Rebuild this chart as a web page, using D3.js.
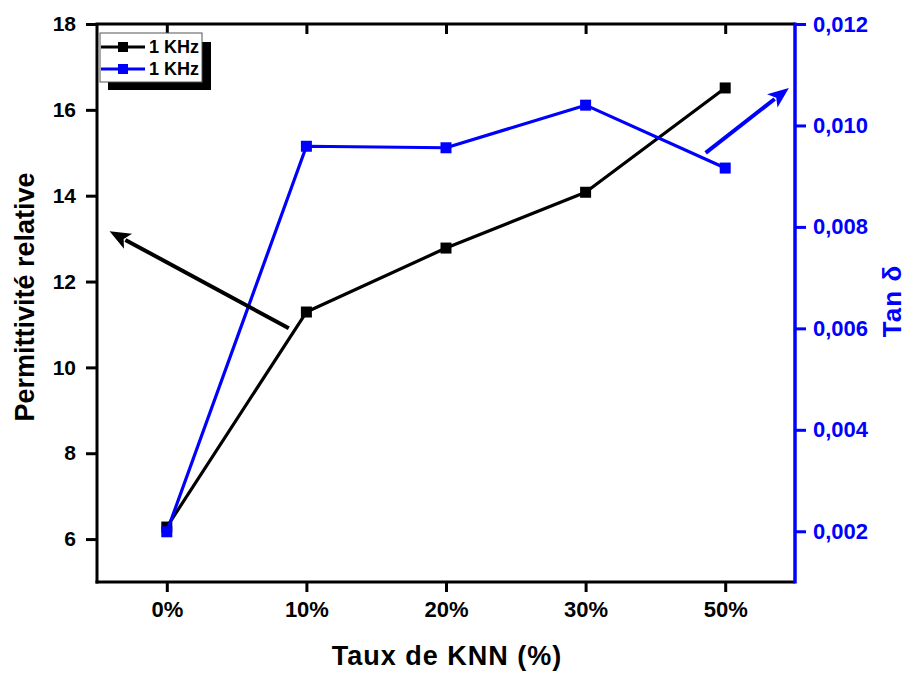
<!DOCTYPE html>
<html>
<head>
<meta charset="utf-8">
<script src="https://cdn.jsdelivr.net/npm/d3@7"></script>
<style>
  html, body { margin: 0; padding: 0; background: #fff; }
  svg { display: block; }
  text { font-family: "Liberation Sans", Arial, sans-serif; font-weight: bold; }
</style>
</head>
<body>
<svg id="chart" width="909" height="673"></svg>
<script>
// Data
const categories = ["0%", "10%", "20%", "30%", "50%"];
const permittivity = [6.28, 11.29, 12.78, 14.08, 16.51];
const tanDelta = [0.00199, 0.00959, 0.00956, 0.01040, 0.00916];
const leftTicks = [6, 8, 10, 12, 14, 16, 18];
const rightTicks = [0.002, 0.004, 0.006, 0.008, 0.010, 0.012];
const legendLabels = ["1 KHz", "1 KHz"];
// Annotation arrows, in data units: [x index, value] tail -> head
const leftArrow = { from: [0.874, 10.91], to: [-0.41, 13.17] };
const rightArrow = { from: [3.86, 0.00946], to: [4.456, 0.01074] };

const BLACK = "#000000";
const BLUE = "#0000ff";
const FONT = "'Liberation Sans', Arial, sans-serif";

const margin = { left: 97, right: 114, top: 24, bottom: 91 };
const W = 909, H = 673;
const x0 = margin.left, x1 = W - margin.right;
const y0 = margin.top, y1 = H - margin.bottom;

const svg = d3.select("#chart");

const x = d3.scalePoint().domain(categories).range([x0, x1]).padding(0.5);
const xIdx = d3.scaleLinear().domain([-0.5, categories.length - 0.5]).range([x0, x1]);
const yL = d3.scaleLinear().domain([5, 18]).range([y1, y0]);
const yR = d3.scaleLinear().domain([0.001, 0.012]).range([y1, y0]);

function styleAxis(g, color, fontSize) {
  g.select(".domain").remove();
  g.selectAll(".tick line").attr("stroke", color).attr("stroke-width", 3);
  g.selectAll(".tick text").attr("fill", color).attr("font-size", fontSize)
    .attr("font-family", FONT).attr("font-weight", "bold");
}

// Bottom axis
const gB = svg.append("g").attr("transform", `translate(0,${y1})`)
  .call(d3.axisBottom(x).tickSize(10).tickPadding(9));
styleAxis(gB, BLACK, 22);

// Top axis (inward ticks, no labels)
const gT = svg.append("g").attr("transform", `translate(0,${y0})`)
  .call(d3.axisTop(x).tickSize(-10).tickFormat(""));
styleAxis(gT, BLACK, 22);

// Left axis
const gL = svg.append("g").attr("transform", `translate(${x0},0)`)
  .call(d3.axisLeft(yL).tickValues(leftTicks).tickSize(11).tickPadding(10));
styleAxis(gL, BLACK, 21);

// Right axis
const gR = svg.append("g").attr("transform", `translate(${x1},0)`)
  .call(d3.axisRight(yR).tickValues(rightTicks).tickSize(11).tickPadding(7)
    .tickFormat(d => d3.format(".3f")(d).replace(".", ",")));
styleAxis(gR, BLUE, 22);

// Frame lines
svg.append("line").attr("x1", x0 - 1.5).attr("x2", x1).attr("y1", y0).attr("y2", y0)
  .attr("stroke", BLACK).attr("stroke-width", 3);
svg.append("line").attr("x1", x0 - 1.5).attr("x2", x1).attr("y1", y1).attr("y2", y1)
  .attr("stroke", BLACK).attr("stroke-width", 3);
svg.append("line").attr("x1", x0).attr("x2", x0).attr("y1", y0).attr("y2", y1 + 1.5)
  .attr("stroke", BLACK).attr("stroke-width", 3);
svg.append("line").attr("x1", x1).attr("x2", x1).attr("y1", y0 - 1.5).attr("y2", y1 + 1.5)
  .attr("stroke", BLUE).attr("stroke-width", 3.5);

// Series
function drawSeries(values, yScale, color) {
  const pts = values.map((v, i) => [x(categories[i]), yScale(v)]);
  svg.append("path").attr("d", d3.line()(pts))
    .attr("fill", "none").attr("stroke", color).attr("stroke-width", 3.2)
    .attr("stroke-linejoin", "round");
  svg.append("g").selectAll("rect").data(pts).join("rect")
    .attr("x", d => d[0] - 5.5).attr("y", d => d[1] - 5.5)
    .attr("width", 11).attr("height", 11).attr("fill", color);
}
drawSeries(permittivity, yL, BLACK);
drawSeries(tanDelta, yR, BLUE);

// Arrows
function drawArrow(a, yScale, color) {
  const sx = xIdx(a.from[0]), sy = yScale(a.from[1]);
  const ex = xIdx(a.to[0]), ey = yScale(a.to[1]);
  const ang = Math.atan2(ey - sy, ex - sx);
  const headLen = 21, headW = 8.5;
  const bx = ex - headLen * Math.cos(ang), by = ey - headLen * Math.sin(ang);
  svg.append("line").attr("x1", sx).attr("y1", sy).attr("x2", bx + 3 * Math.cos(ang)).attr("y2", by + 3 * Math.sin(ang))
    .attr("stroke", color).attr("stroke-width", 4);
  const nx = -Math.sin(ang), ny = Math.cos(ang);
  const notch = 5;
  const p = [
    [ex, ey],
    [bx + headW * nx, by + headW * ny],
    [bx + notch * Math.cos(ang), by + notch * Math.sin(ang)],
    [bx - headW * nx, by - headW * ny]
  ];
  svg.append("path").attr("d", d3.line()(p) + "Z").attr("fill", color);
}
drawArrow(leftArrow, yL, BLACK);
drawArrow(rightArrow, yR, BLUE);

// Legend
const lg = svg.append("g").attr("transform", `translate(${x0 + 3},${y0 + 9})`);
lg.append("rect").attr("x", 8).attr("y", 9).attr("width", 103).attr("height", 48).attr("fill", BLACK);
lg.append("rect").attr("x", 0).attr("y", 0).attr("width", 102).attr("height", 49)
  .attr("fill", "#fff").attr("stroke", "#555").attr("stroke-width", 1);
[BLACK, BLUE].forEach((c, i) => {
  const yy = 14 + i * 22;
  lg.append("line").attr("x1", 1).attr("x2", 45).attr("y1", yy).attr("y2", yy)
    .attr("stroke", c).attr("stroke-width", 3.2);
  lg.append("rect").attr("x", 23 - 5).attr("y", yy - 5).attr("width", 10).attr("height", 10).attr("fill", c);
  lg.append("text").attr("x", 49).attr("y", yy + 6).attr("font-size", 18).attr("fill", BLACK).text(legendLabels[i]);
});

// Axis titles
svg.append("text").attr("transform", `translate(34,297) rotate(-90)`)
  .attr("text-anchor", "middle").attr("font-size", 27).attr("fill", BLACK).text("Permittivité relative");
svg.append("text").attr("x", 447).attr("y", 665)
  .attr("text-anchor", "middle").attr("font-size", 27).attr("letter-spacing", 1)
  .attr("fill", BLACK).text("Taux de KNN (%)");
svg.append("text").attr("transform", `translate(901,301) rotate(-90)`)
  .attr("text-anchor", "middle").attr("font-size", 26).attr("letter-spacing", 1)
  .attr("fill", BLUE).text("Tan δ");
</script>
</body>
</html>
